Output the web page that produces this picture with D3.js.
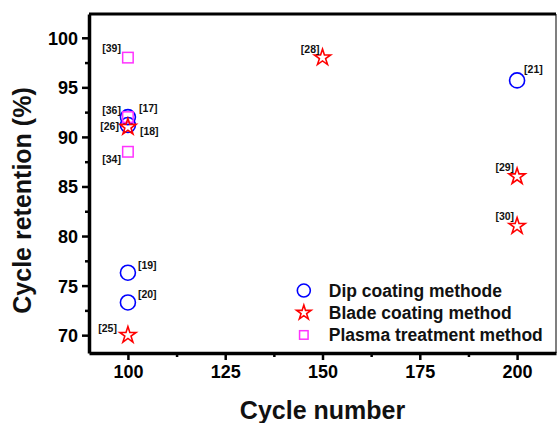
<!DOCTYPE html>
<html>
<head>
<meta charset="utf-8">
<script src="https://cdn.jsdelivr.net/npm/d3@7"></script>
<style>
    body { margin: 0; background: #fff; }
    svg { display: block; font-family: Arial, "Liberation Sans", sans-serif; }
    .tick text { font-size: 18px; font-weight: bold; fill: #000; }
    .pt-label { font-size: 10.5px; font-weight: bold; fill: #111; }
    .legend text { font-size: 17.5px; font-weight: bold; fill: #111; }
    .title { font-size: 25px; font-weight: bold; fill: #111; }
</style>
</head>
<body>
<div id="chart"></div>
<script>

// data
var dipCycles = [100, 100, 100, 100, 200]
    , dipRetention = [92.0, 91.2, 76.3, 73.3, 95.7]
    , dipRefs = ["[17]", "[18]", "[19]", "[20]", "[21]"]

    , bladeCycles = [100, 100, 150, 200, 200]
    , bladeRetention = [91.0, 70.0, 98.0, 86.0, 81.0]
    , bladeRefs = ["[26]", "[25]", "[28]", "[29]", "[30]"]

    , plasmaCycles = [100, 100, 100]
    , plasmaRetention = [98.0, 92.0, 88.5]
    , plasmaRefs = ["[39]", "[36]", "[34]"]

    , seriesNames = ["Dip coating methode", "Blade coating method", "Plasma treatment method"]
    , xTickValues = [100, 125, 150, 175, 200]
    , yTickValues = [70, 75, 80, 85, 90, 95, 100];

// where each reference label sits next to its marker: [anchor, dx, dy]
var labelPlace = {
    "[17]": ["start", 11, -5], "[18]": ["start", 12, 10], "[19]": ["start", 10, -4],
    "[20]": ["start", 10, -4], "[21]": ["start", 7, -7],
    "[26]": ["end", -9, 3], "[25]": ["end", -11, -3], "[28]": ["end", -3, -5],
    "[29]": ["end", -3, -6], "[30]": ["end", -3, -6],
    "[39]": ["end", -7, -6], "[36]": ["end", -7, -3], "[34]": ["end", -7, 11]
};

var w = 557, h = 423
    , margin = {top: 14, right: 1, bottom: 70, left: 89}
    , width = w - margin.left - margin.right
    , height = h - margin.top - margin.bottom;

var svg = d3.select("#chart")
    .append("svg")
    .attr("width", w)
    .attr("height", h);

var g = svg.append("g")
    .attr("transform", "translate(" + margin.left + "," + margin.top + ")");

var x = d3.scaleLinear()
    .domain([90, 210])
    .range([0, width]);

var y = d3.scaleLinear()
    .domain([68.2, 102.4])
    .range([height, 0]);

function zip(xs, ys, refs) {
    return xs.map(function(v, i){ return {cycle: v, ret: ys[i], ref: refs[i]}; });
}

var series = [
    {name: seriesNames[0], cls: "dip", color: "#0000ff", data: zip(dipCycles, dipRetention, dipRefs)},
    {name: seriesNames[1], cls: "blade", color: "#ff0000", data: zip(bladeCycles, bladeRetention, bladeRefs)},
    {name: seriesNames[2], cls: "plasma", color: "#ff33ff", data: zip(plasmaCycles, plasmaRetention, plasmaRefs)}
];

// frame: thin grey right side, thick black top
g.append("line")
    .attr("x1", width).attr("x2", width)
    .attr("y1", 0).attr("y2", height)
    .attr("stroke", "#555").attr("stroke-width", 1.5);

g.append("line")
    .attr("x1", 0).attr("x2", width)
    .attr("y1", 0).attr("y2", 0)
    .attr("stroke", "#000").attr("stroke-width", 3);

// minor ticks first, majors on top
var xMinor = d3.range(112.5, 210, 25)
    , yMinor = d3.range(72.5, 102.4, 5);

g.append("g")
    .attr("class", "axis axis--x-minor")
    .attr("transform", "translate(0," + height + ")")
    .call(d3.axisBottom(x).tickValues(xMinor).tickSize(4).tickFormat(""))
    .call(function(a){ a.select(".domain").remove(); a.selectAll("line").attr("stroke-width", 2.5); });

g.append("g")
    .attr("class", "axis axis--y-minor")
    .call(d3.axisLeft(y).tickValues(yMinor).tickSize(4).tickFormat(""))
    .call(function(a){ a.select(".domain").remove(); a.selectAll("line").attr("stroke-width", 2.5); });

var xAxis = d3.axisBottom(x)
    .tickValues(xTickValues)
    .tickSizeInner(7)
    .tickSizeOuter(0)
    .tickPadding(5);

var yAxis = d3.axisLeft(y)
    .tickValues(yTickValues)
    .tickSizeInner(7)
    .tickSizeOuter(0)
    .tickPadding(4);

g.append("g")
    .attr("class", "axis axis--x")
    .attr("transform", "translate(0," + height + ")")
    .call(xAxis)
    .call(function(a){
        a.select(".domain").attr("stroke-width", 3.5);
        a.selectAll(".tick line").attr("stroke-width", 2.5);
    });

g.append("g")
    .attr("class", "axis axis--y")
    .call(yAxis)
    .call(function(a){
        a.select(".domain").attr("stroke-width", 3.5);
        a.selectAll(".tick line").attr("stroke-width", 2.5);
        a.selectAll(".tick text").attr("dy", "0.36em");
    });

// markers
var star = d3.symbol().type(d3.symbolStar).size(82)
    , starSmall = d3.symbol().type(d3.symbolStar).size(66);

function drawMarker(sel, cls, color, small) {
    if (cls === "dip") {
        sel.append("circle")
            .attr("r", small ? 6.5 : 7.5)
            .attr("fill", "none")
            .attr("stroke", color)
            .attr("stroke-width", 1.6);
    } else if (cls === "blade") {
        sel.append("path")
            .attr("d", small ? starSmall() : star())
            .attr("fill", "none")
            .attr("stroke", color)
            .attr("stroke-width", 1.6)
            .attr("stroke-linejoin", "miter");
    } else {
        var s = small ? 8.5 : 10.5;
        sel.append("rect")
            .attr("x", -s / 2).attr("y", -s / 2)
            .attr("width", s).attr("height", s)
            .attr("fill", "none")
            .attr("stroke", color)
            .attr("stroke-width", 1.5);
    }
}

var points_g = g.append("g").attr("class", "points-pane");

// draw plasma first, then dip, blade on top (as in the picture)
[series[0], series[2], series[1]].forEach(function(s){
    points_g.append("g")
        .attr("class", "points " + s.cls)
        .selectAll("g")
        .data(s.data)
        .enter()
        .append("g")
        .attr("transform", function(d){ return "translate(" + x(d.cycle) + "," + y(d.ret) + ")"; })
        .each(function(){ drawMarker(d3.select(this), s.cls, s.color, false); });
});

var label_g = g.append("g").attr("class", "labels-pane");

series.forEach(function(s){
    label_g.selectAll(null)
        .data(s.data)
        .enter()
        .append("text")
        .attr("class", "pt-label")
        .attr("text-anchor", function(d){ return labelPlace[d.ref][0]; })
        .attr("x", function(d){ return x(d.cycle) + labelPlace[d.ref][1]; })
        .attr("y", function(d){ return y(d.ret) + labelPlace[d.ref][2]; })
        .text(function(d){ return d.ref; });
});

// legend
var legend = g.append("g")
    .attr("class", "legend")
    .attr("transform", "translate(" + (x(145.2)) + "," + (y(74.5)) + ")");

series.forEach(function(s, i){
    var row = legend.append("g")
        .attr("transform", "translate(0," + (i * 22.2) + ")");
    drawMarker(row, s.cls, s.color, true);
    row.append("text")
        .attr("x", 25)
        .attr("y", 6)
        .text(s.name);
});

// axis titles
svg.append("text")
    .attr("class", "title")
    .attr("text-anchor", "middle")
    .attr("x", margin.left + width / 2)
    .attr("y", 419)
    .text("Cycle number");

svg.append("text")
    .attr("class", "title")
    .attr("text-anchor", "middle")
    .attr("transform", "translate(31," + (margin.top + height / 2 + 17) + ") rotate(-90)")
    .text("Cycle retention (%)");

</script>
</body>
</html>
